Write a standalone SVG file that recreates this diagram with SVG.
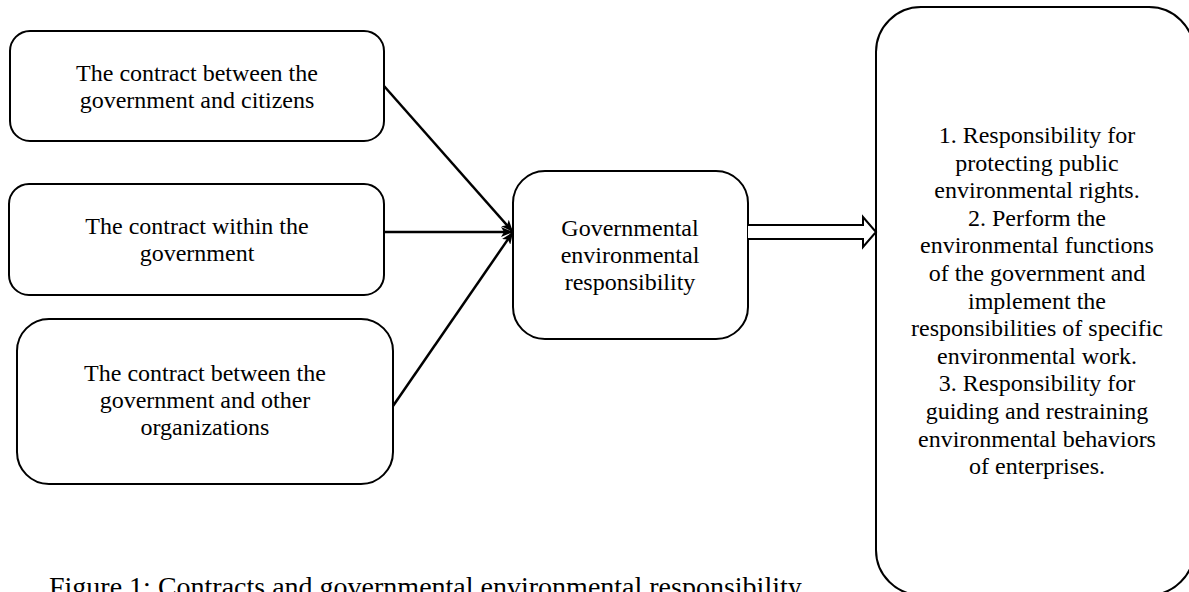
<svg xmlns="http://www.w3.org/2000/svg" width="1189" height="592" viewBox="0 0 1189 592">
<style>
.box{fill:#fff;stroke:#000;stroke-width:2}
.t{font-family:"Liberation Serif","Times New Roman",serif;font-size:24px;fill:#000;text-anchor:middle}
.cap{font-family:"Liberation Serif","Times New Roman",serif;font-size:28px;fill:#000}
.ln{stroke:#000;stroke-width:2.5;fill:none}
</style>
<defs>
<marker id="ah" viewBox="0 0 12 10" refX="12" refY="5" markerWidth="12" markerHeight="10" markerUnits="userSpaceOnUse" orient="auto">
<path d="M0,0 L12,5 L0,10 L3,5 z" fill="#000"/>
</marker>
</defs>
<g id="n1">
<rect class="box" x="10" y="31" width="374" height="110" rx="20"/>
<text class="t" x="197" y="81">The contract between the</text>
<text class="t" x="197" y="108">government and citizens</text>
</g>
<g id="n2">
<rect class="box" x="9" y="184" width="375" height="111" rx="20"/>
<text class="t" x="197" y="234">The contract within the</text>
<text class="t" x="197" y="261">government</text>
</g>
<g id="n3">
<rect class="box" x="17" y="319" width="376" height="165" rx="32"/>
<text class="t" x="205" y="381">The contract between the</text>
<text class="t" x="205" y="408">government and other</text>
<text class="t" x="205" y="435">organizations</text>
</g>
<g id="n4">
<rect class="box" x="513" y="171" width="235" height="168" rx="32"/>
<text class="t" x="630" y="236">Governmental</text>
<text class="t" x="630" y="263">environmental</text>
<text class="t" x="630" y="290">responsibility</text>
</g>
<g id="n5">
<rect class="box" x="876" y="7" width="318" height="588" rx="45"/>
<text class="t" x="1037" y="143">1. Responsibility for</text>
<text class="t" x="1037" y="170.6">protecting public</text>
<text class="t" x="1037" y="198.2">environmental rights.</text>
<text class="t" x="1037" y="225.8">2. Perform the</text>
<text class="t" x="1037" y="253.4">environmental functions</text>
<text class="t" x="1037" y="281">of the government and</text>
<text class="t" x="1037" y="308.6">implement the</text>
<text class="t" x="1037" y="336.2">responsibilities of specific</text>
<text class="t" x="1037" y="363.8">environmental work.</text>
<text class="t" x="1037" y="391.4">3. Responsibility for</text>
<text class="t" x="1037" y="419">guiding and restraining</text>
<text class="t" x="1037" y="446.6">environmental behaviors</text>
<text class="t" x="1037" y="474.2">of enterprises.</text>
</g>
<g id="connectors">
<line class="ln" x1="384" y1="86" x2="513" y2="232" marker-end="url(#ah)"/>
<line class="ln" x1="384" y1="232" x2="513" y2="232" marker-end="url(#ah)"/>
<line class="ln" x1="393" y1="406" x2="513" y2="232" marker-end="url(#ah)"/>
<path d="M748,225 L863,225 L863,217 L876,232 L863,247 L863,239 L748,239" fill="#fff" stroke="#000" stroke-width="2"/>
</g>
<text class="cap" x="49" y="596">Figure 1: Contracts and governmental environmental responsibility</text>
</svg>
